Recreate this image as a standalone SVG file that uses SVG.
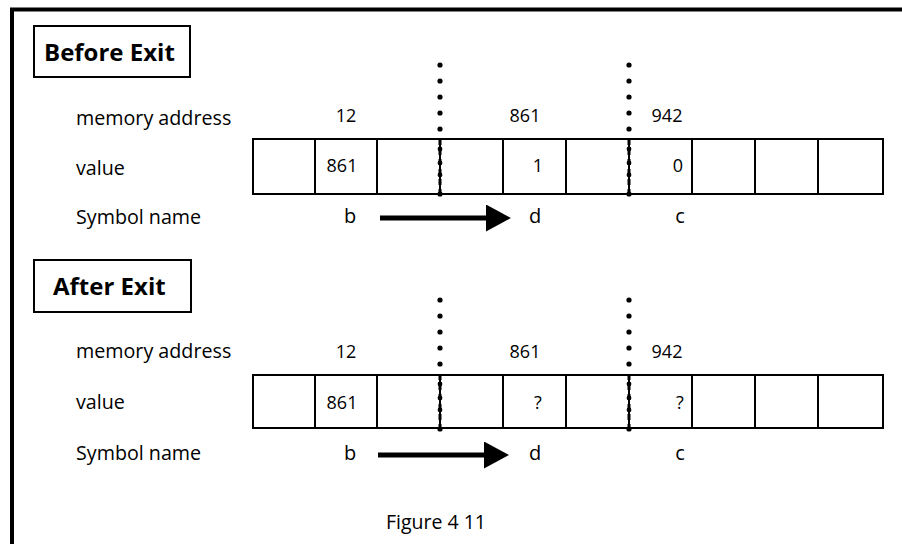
<svg xmlns="http://www.w3.org/2000/svg" width="902" height="544" viewBox="0 0 902 544">
<style>
  text { font-family: "Open Sans", "Liberation Sans", sans-serif; fill: #000; }
  .title { font-size: 24px; font-weight: bold; }
  .lbl { font-size: 19.7px; }
  .num { font-size: 18px; text-anchor: middle; }
  .sym { font-size: 20px; text-anchor: middle; }
  .cap { font-size: 19.5px; text-anchor: middle; }
  .box { fill: #fff; stroke: #000; stroke-width: 2; }
  .cell { fill: none; stroke: #000; stroke-width: 2; }
  .arrow { stroke: #000; stroke-width: 5; fill: none; marker-end: url(#head); }
</style>
<defs>
  <marker id="head" markerUnits="userSpaceOnUse" viewBox="0 0 25 27" markerWidth="25" markerHeight="27" refX="0" refY="13.5" orient="auto">
    <path d="M0,0 L25,13.5 L0,27 Z" fill="#000"/>
  </marker>
  <g id="dotcol">
    <circle cx="0" cy="0" r="2.6"/>
    <circle cx="0" cy="16" r="2.6"/>
    <circle cx="0" cy="32" r="2.6"/>
    <circle cx="0" cy="48" r="2.6"/>
    <circle cx="0" cy="64" r="2.6"/>
    <line x1="0" y1="74" x2="0" y2="129" stroke="#000" stroke-width="3" stroke-dasharray="6 4"/>
    <circle cx="0" cy="84" r="2.4"/>
    <circle cx="0" cy="98" r="2.4"/>
    <circle cx="0" cy="110" r="2.4"/>
    <circle cx="0" cy="129" r="2.6"/>
  </g>
</defs>
<rect width="902" height="544" fill="#fff"/>

<g id="frame" stroke="#000" stroke-width="4" fill="none">
  <line x1="10" y1="9.5" x2="902" y2="9.5"/>
  <line x1="12" y1="8" x2="12" y2="544"/>
</g>

<!-- Before Exit -->
<g id="before-title">
  <rect class="box" x="34" y="26" width="156" height="51"/>
  <text class="title" x="44" y="61">Before Exit</text>
</g>
<g id="before-labels">
  <text class="lbl" x="76" y="125">memory address</text>
  <text class="lbl" x="76" y="175">value</text>
  <text class="lbl" x="76" y="224">Symbol name</text>
</g>
<g id="before-addresses">
  <text class="num" x="346" y="122">12</text>
  <text class="num" x="525" y="122">861</text>
  <text class="num" x="667" y="122">942</text>
</g>
<g id="before-memory">
  <rect class="cell" x="253" y="139" width="630" height="55"/>
  <line class="cell" x1="315" y1="139" x2="315" y2="194"/>
  <line class="cell" x1="377" y1="139" x2="377" y2="194"/>
  <line class="cell" x1="440" y1="139" x2="440" y2="194"/>
  <line class="cell" x1="503" y1="139" x2="503" y2="194"/>
  <line class="cell" x1="566" y1="139" x2="566" y2="194"/>
  <line class="cell" x1="629" y1="139" x2="629" y2="194"/>
  <line class="cell" x1="692" y1="139" x2="692" y2="194"/>
  <line class="cell" x1="755" y1="139" x2="755" y2="194"/>
  <line class="cell" x1="818" y1="139" x2="818" y2="194"/>
  <text class="num" x="342" y="172">861</text>
  <text class="num" x="538" y="172">1</text>
  <text class="num" x="678" y="172">0</text>
</g>
<g id="before-markers">
  <use href="#dotcol" x="440" y="65"/>
  <use href="#dotcol" x="629" y="65"/>
</g>
<g id="before-symbols">
  <text class="sym" x="350" y="223">b</text>
  <text class="sym" x="535" y="223">d</text>
  <text class="sym" x="680" y="223">c</text>
</g>

<!-- After Exit -->
<g id="after-title">
  <rect class="box" x="34" y="260" width="157" height="52"/>
  <text class="title" x="53" y="295">After Exit</text>
</g>
<g id="after-labels">
  <text class="lbl" x="76" y="358">memory address</text>
  <text class="lbl" x="76" y="409">value</text>
  <text class="lbl" x="76" y="460">Symbol name</text>
</g>
<g id="after-addresses">
  <text class="num" x="346" y="358">12</text>
  <text class="num" x="525" y="358">861</text>
  <text class="num" x="667" y="358">942</text>
</g>
<g id="after-memory">
  <rect class="cell" x="253" y="375" width="630" height="53"/>
  <line class="cell" x1="315" y1="375" x2="315" y2="428"/>
  <line class="cell" x1="377" y1="375" x2="377" y2="428"/>
  <line class="cell" x1="440" y1="375" x2="440" y2="428"/>
  <line class="cell" x1="503" y1="375" x2="503" y2="428"/>
  <line class="cell" x1="566" y1="375" x2="566" y2="428"/>
  <line class="cell" x1="629" y1="375" x2="629" y2="428"/>
  <line class="cell" x1="692" y1="375" x2="692" y2="428"/>
  <line class="cell" x1="755" y1="375" x2="755" y2="428"/>
  <line class="cell" x1="818" y1="375" x2="818" y2="428"/>
  <text class="num" x="342" y="409">861</text>
  <text class="num" x="538" y="409">?</text>
  <text class="num" x="680" y="409">?</text>
</g>
<g id="after-markers">
  <use href="#dotcol" x="440" y="300"/>
  <use href="#dotcol" x="629" y="300"/>
</g>
<g id="after-symbols">
  <text class="sym" x="350" y="460">b</text>
  <text class="sym" x="535" y="460">d</text>
  <text class="sym" x="680" y="460">c</text>
</g>

<g id="connectors">
  <line class="arrow" x1="380" y1="218" x2="486" y2="218"/>
  <line class="arrow" x1="378" y1="455" x2="484" y2="455"/>
</g>

<g id="caption">
  <text class="cap" x="436" y="529">Figure 4 11</text>
</g>
</svg>
